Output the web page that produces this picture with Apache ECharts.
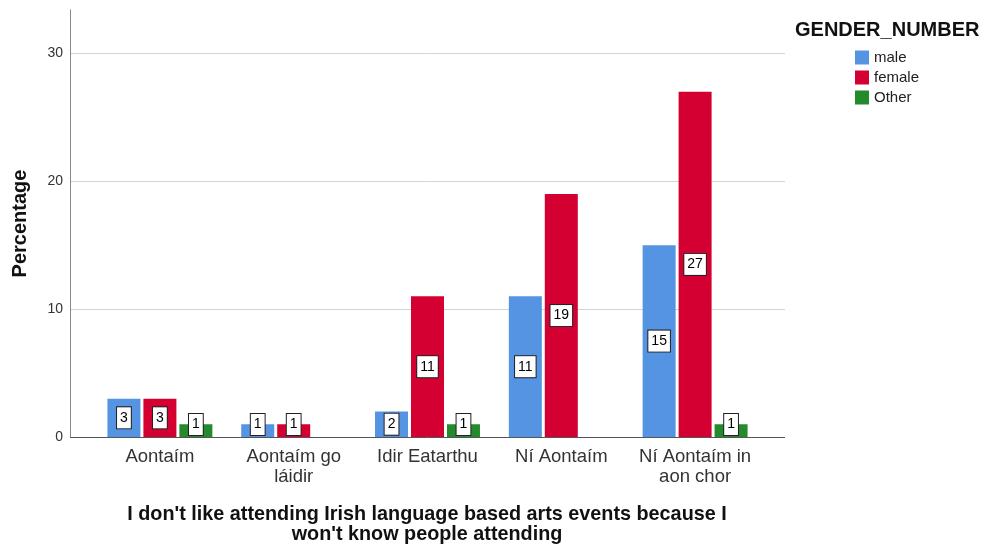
<!DOCTYPE html>
<html>
<head>
<meta charset="utf-8">
<script src="https://cdn.jsdelivr.net/npm/echarts@6/dist/echarts.min.js"></script>
<style>
html,body{margin:0;padding:0;background:#fff;}
#main{width:986px;height:544px;}
</style>
</head>
<body>
<div id="main"></div>
<script>
const categories = ['Aontaím', 'Aontaím go\nláidir', 'Idir Eatarthu', 'Ní Aontaím', 'Ní Aontaím in\naon chor'];
const maleValues = [3, 1, 2, 11, 15];
const femaleValues = [3, 1, 11, 19, 27];
const otherValues = [1, null, 1, null, 1];
const yTicks = [0, 10, 20, 30];

const FONT = 'Arial, "Liberation Sans", sans-serif';
const Y_MAX = 33.4;
const PLOT_H = 427;      // grid height in px
const BOX_H = 21;        // label box height in px
const chart = echarts.init(document.getElementById('main'));

const labelStyle = {
  show: true,
  position: 'inside',
  color: '#000',
  fontSize: 14,
  fontFamily: FONT,
  backgroundColor: '#fff',
  borderColor: '#222',
  borderWidth: 1,
  padding: [4, 3, 3, 3],
  formatter: p => (p.value == null ? '' : String(p.value))
};

// Keep the value label box above the baseline for very short bars (as SPSS does)
function toItems(values) {
  return values.map(v => {
    if (v == null) return null;
    const h = v / Y_MAX * PLOT_H;
    if (h >= BOX_H) return v;
    return { value: v, label: { offset: [0, -((BOX_H - h) / 2 + 2)] } };
  });
}

function barSeries(name, data, color) {
  return {
    name: name,
    type: 'bar',
    xAxisIndex: 1,
    yAxisIndex: 1,
    data: toItems(data),
    barWidth: 33,
    barGap: '9%',
    itemStyle: { color: color },
    label: labelStyle
  };
}

chart.setOption({
  animation: false,
  textStyle: { fontFamily: FONT },
  legend: {
    data: ['male', 'female', 'Other'],
    orient: 'vertical',
    left: 855,
    top: 50,
    padding: 0,
    itemWidth: 14,
    itemHeight: 14,
    itemGap: 5,
    icon: 'rect',
    textStyle: { fontSize: 15, color: '#222', fontFamily: FONT }
  },
  graphic: [{
    type: 'text',
    left: 795,
    top: 20,
    style: { text: 'GENDER_NUMBER', fontSize: 20, fontWeight: 'bold', fill: '#111', fontFamily: FONT }
  }],
  grid: [
    { left: 70, right: 201, top: 10, bottom: 107, outerBoundsMode: 'none', containLabel: false },
    { left: 93, right: 224, top: 10, bottom: 107, outerBoundsMode: 'none', containLabel: false }
  ],
  xAxis: [
    {
      type: 'value', gridIndex: 0, min: 0, max: 1,
      axisLine: { show: false }, axisTick: { show: false },
      axisLabel: { show: false }, splitLine: { show: false }
    },
    {
      type: 'category', gridIndex: 1, data: categories,
      axisLine: { show: false }, axisTick: { show: false },
      axisLabel: { fontSize: 18.5, color: '#333', fontFamily: FONT, margin: 10, lineHeight: 20, interval: 0 },
      name: "I don't like attending Irish language based arts events because I\nwon't know people attending",
      nameLocation: 'middle',
      nameGap: 68,
      nameTextStyle: { fontSize: 19.8, fontWeight: 'bold', color: '#111', lineHeight: 19.5, fontFamily: FONT, padding: [0, 0, 0, -1] }
    }
  ],
  yAxis: [
    {
      type: 'value', gridIndex: 0, min: 0, max: Y_MAX, interval: 10,
      axisLine: { show: true, lineStyle: { color: '#888', width: 1 } },
      axisTick: { show: false },
      axisLabel: {
        fontSize: 14, color: '#333', margin: 7, fontFamily: FONT,
        formatter: v => (yTicks.indexOf(v) >= 0 ? String(v) : '')
      },
      splitLine: { show: true, showMaxLine: false, showMinLine: false, lineStyle: { color: '#d4d4d4', width: 1 } },
      name: 'Percentage',
      nameLocation: 'middle',
      nameGap: 40,
      nameTextStyle: { fontSize: 20, fontWeight: 'bold', color: '#111', fontFamily: FONT }
    },
    {
      type: 'value', gridIndex: 1, min: 0, max: Y_MAX, interval: 10,
      axisLine: { show: false }, axisTick: { show: false },
      axisLabel: { show: false }, splitLine: { show: false }
    }
  ],
  series: [
    {
      type: 'line', xAxisIndex: 0, yAxisIndex: 0,
      data: [], silent: true,
      markLine: {
        silent: true, symbol: 'none', label: { show: false },
        lineStyle: { color: '#555', width: 1, type: 'solid' },
        data: [{ yAxis: 0 }]
      }
    },
    barSeries('male', maleValues, '#5594e2'),
    barSeries('female', femaleValues, '#d50032'),
    barSeries('Other', otherValues, '#248b2c')
  ]
});
</script>
</body>
</html>
